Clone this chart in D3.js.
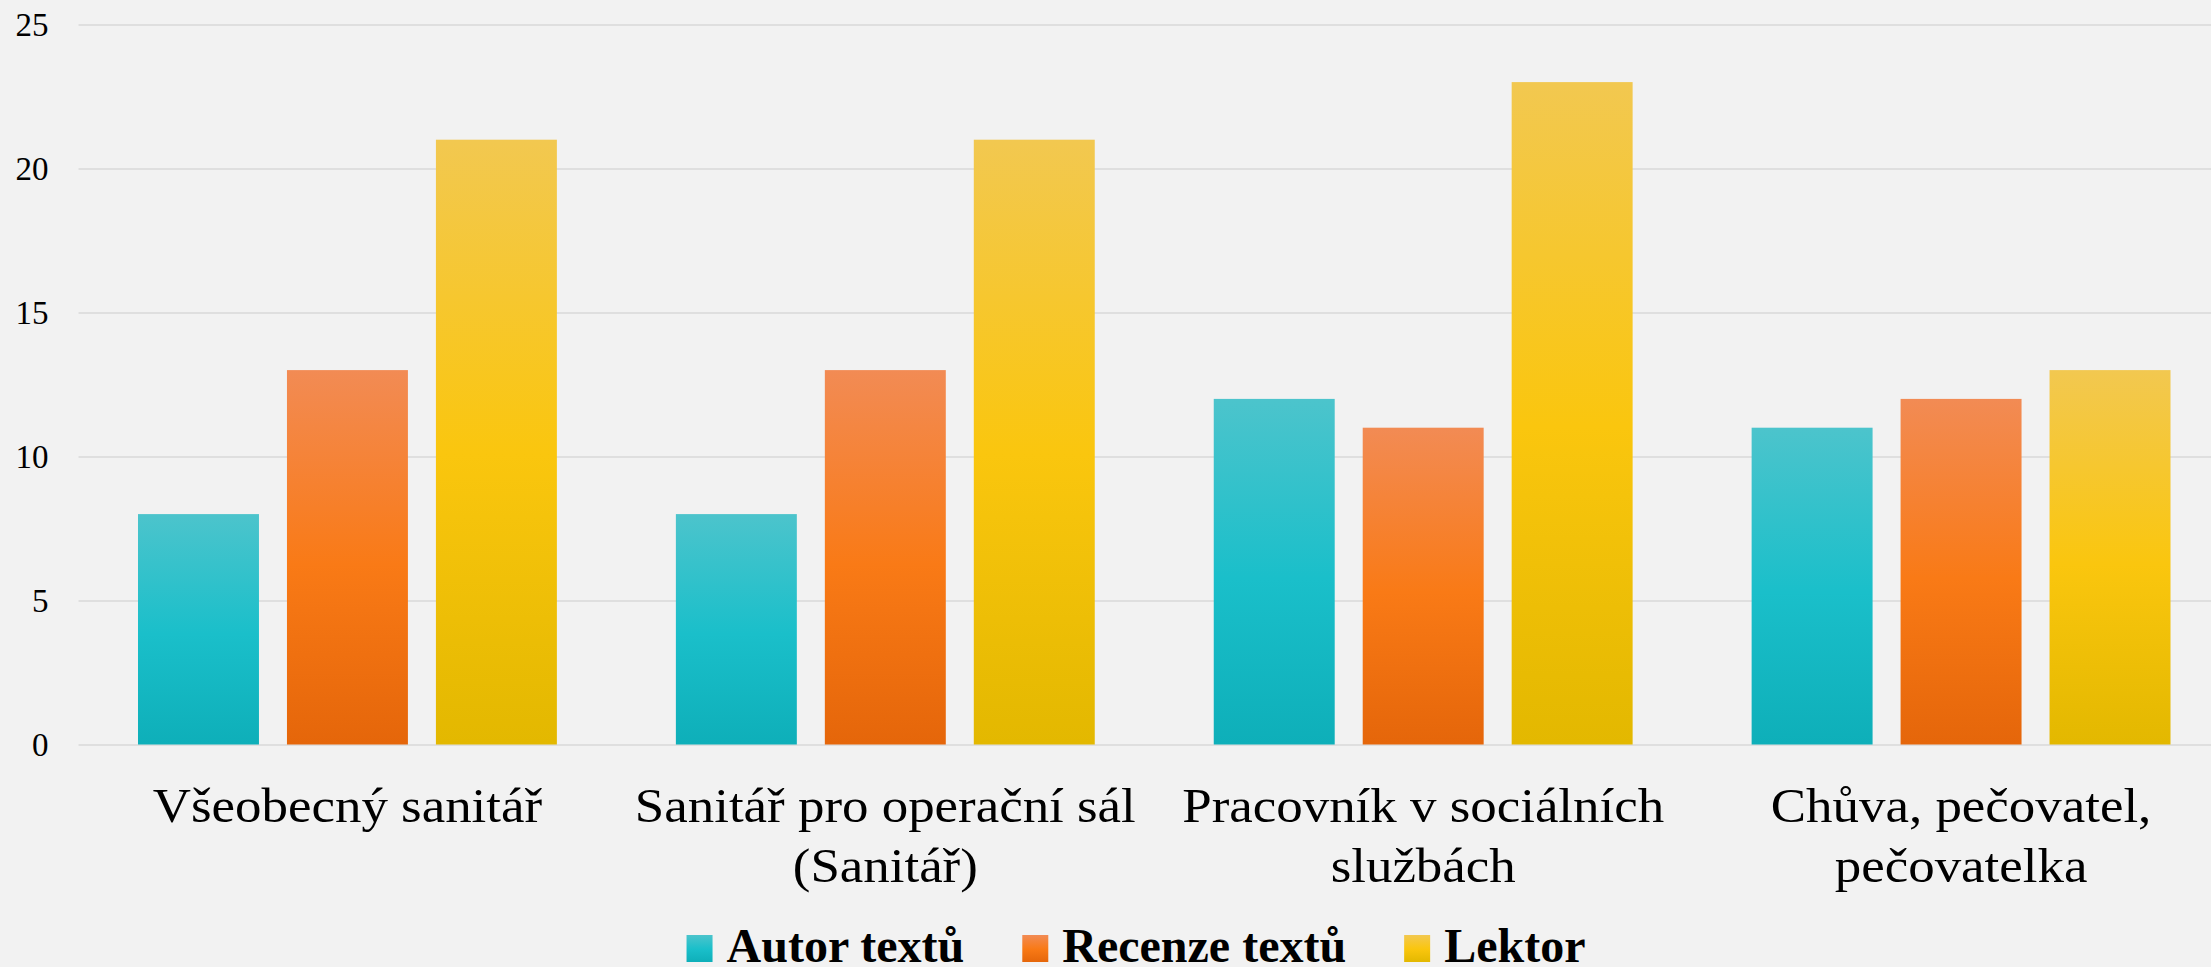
<!DOCTYPE html>
<html>
<head>
<meta charset="utf-8">
<script src="https://cdn.jsdelivr.net/npm/d3@7"></script>
<style>
  html, body { margin: 0; padding: 0; background: #f2f2f2; }
  svg { display: block; font-family: "Liberation Serif", "DejaVu Serif", serif; }
</style>
</head>
<body>
<div id="chart"></div>
<script>
// ------------------------------------------------------------------ DATA
const categories = [
  'Všeobecný sanitář',
  'Sanitář pro operační sál (Sanitář)',
  'Pracovník v sociálních službách',
  'Chůva, pečovatel, pečovatelka'
];
const seriesNames = ['Autor textů', 'Recenze textů', 'Lektor'];
const autorTextu   = [8, 8, 12, 11];
const recenzeTextu = [13, 13, 11, 12];
const lektor       = [21, 21, 23, 13];
const yTicks = [0, 5, 10, 15, 20, 25];

const seriesValues = [autorTextu, recenzeTextu, lektor];

// gradient stops per series: top, middle, bottom
const palette = [
  ['#4cc4cc', '#1abfca', '#0eafb9'],
  ['#f28b54', '#f97a16', '#e5660a'],
  ['#f2c850', '#fac60e', '#e3b800']
];

const width = 2211, height = 967;
const margin = { left: 78.5, right: -19, top: 24.5, bottom: 222.5 };

const svg = d3.select('#chart').append('svg')
  .attr('width', width)
  .attr('height', height)
  .style('background', '#f2f2f2');

// ------------------------------------------------------------------ GRADIENTS
const defs = svg.append('defs');
palette.forEach((c, i) => {
  const g = defs.append('linearGradient')
    .attr('id', 'grad' + i)
    .attr('x1', 0).attr('y1', 0).attr('x2', 0).attr('y2', 1);
  g.append('stop').attr('offset', '0%').attr('stop-color', c[0]);
  g.append('stop').attr('offset', '52%').attr('stop-color', c[1]);
  g.append('stop').attr('offset', '100%').attr('stop-color', c[2]);
});

// ------------------------------------------------------------------ SCALES
const x0 = d3.scaleBand()
  .domain(categories)
  .range([margin.left, width - margin.right])
  .paddingInner(0)
  .paddingOuter(0);

const x1 = d3.scaleBand()
  .domain(seriesNames)
  .range([59.5, x0.bandwidth() - 59.5])
  .paddingInner(0.188)
  .paddingOuter(0);

const y = d3.scaleLinear()
  .domain([0, 25])
  .range([height - margin.bottom, margin.top]);

// ------------------------------------------------------------------ GRID + Y AXIS
const yAxis = svg.append('g')
  .attr('transform', `translate(${margin.left},0)`)
  .call(d3.axisLeft(y).tickValues(yTicks).tickSize(-(width - margin.left)).tickPadding(30));
yAxis.select('.domain').remove();
yAxis.selectAll('.tick line')
  .attr('stroke', '#d9d9d9')
  .attr('stroke-width', 1.6);
yAxis.selectAll('.tick text')
  .attr('font-size', 33)
  .attr('font-family', '"Liberation Serif", serif')
  .attr('fill', '#000');

// ------------------------------------------------------------------ BARS
const rows = categories.map((c, i) => ({
  cat: c,
  vals: seriesNames.map((s, j) => ({ s, j, v: seriesValues[j][i] }))
}));

svg.append('g')
  .selectAll('g')
  .data(rows)
  .join('g')
  .attr('transform', d => `translate(${x0(d.cat)},0)`)
  .selectAll('rect')
  .data(d => d.vals)
  .join('rect')
  .attr('x', d => x1(d.s))
  .attr('width', x1.bandwidth())
  .attr('y', d => y(d.v))
  .attr('height', d => y(0) - y(d.v))
  .attr('fill', d => `url(#grad${d.j})`);

// ------------------------------------------------------------------ X LABELS (wrapped)
// the reference face is wider than Liberation Serif, so stretch a bit horizontally
const stretch = 1.08;
const xLabels = svg.append('g')
  .selectAll('text')
  .data(categories)
  .join('text')
  .attr('transform', d => `translate(${x0(d) + x0.bandwidth() / 2},822) scale(${stretch},1)`)
  .attr('text-anchor', 'middle')
  .attr('font-size', 49)
  .attr('fill', '#000');

xLabels.each(function (d) {
  const el = d3.select(this);
  const words = d.split(' ');
  const maxW = (x0.bandwidth() - 20) / stretch;
  let line = [];
  let tspan = el.append('tspan').attr('x', 0).attr('dy', 0);
  words.forEach(w => {
    line.push(w);
    tspan.text(line.join(' '));
    if (tspan.node().getComputedTextLength() > maxW && line.length > 1) {
      line.pop();
      tspan.text(line.join(' '));
      line = [w];
      tspan = el.append('tspan').attr('x', 0).attr('dy', 60).text(w);
    }
  });
});

// ------------------------------------------------------------------ LEGEND
const legend = svg.append('g');
const items = legend.selectAll('g')
  .data(seriesNames)
  .join('g');
items.append('rect')
  .attr('width', 26)
  .attr('height', 27)
  .attr('y', 935)
  .attr('fill', (d, i) => `url(#grad${i})`);
items.append('text')
  .attr('x', 40)
  .attr('y', 962)
  .attr('font-size', 48)
  .attr('font-weight', 'bold')
  .attr('fill', '#000')
  .text(d => d);

let cursor = 0;
const offsets = [];
items.each(function () {
  const w = d3.select(this).select('text').node().getComputedTextLength();
  offsets.push(cursor);
  cursor += 40 + w + 58;
});
const totalW = cursor - 58;
const startX = 1136 - totalW / 2;
items.attr('transform', (d, i) => `translate(${startX + offsets[i]},0)`);
</script>
</body>
</html>
